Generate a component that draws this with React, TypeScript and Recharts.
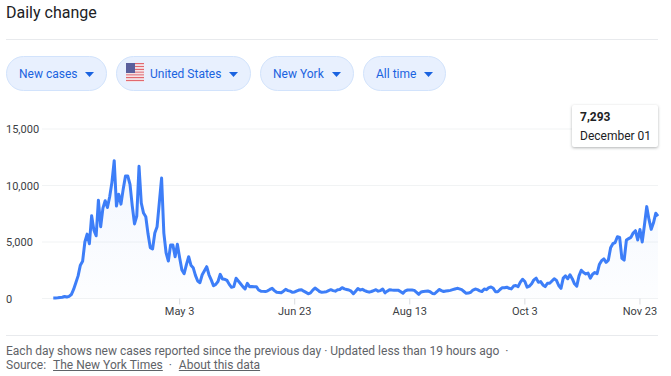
import React from 'react';
import { AreaChart, Area, XAxis, YAxis, CartesianGrid } from 'recharts';

// one value per day, Mar 8 to Dec 1
const newCases = [
  40, 40, 60, 90, 110, 180, 130, 190, 350, 800,
  1400, 2000, 2950, 3300, 5000, 5700, 4850, 7330, 6050, 5550,
  8700, 6350, 8000, 8650, 8050, 9000, 10300, 12200, 8180, 9230,
  8350, 9700, 10850, 10850, 10100, 8200, 6600, 7300, 11700, 8450,
  7560, 7240, 5700, 4500, 4380, 5790, 6350, 8500, 10660, 5790,
  4030, 3320, 4730, 4730, 3700, 4800, 3600, 2520, 2200, 3000,
  3700, 2950, 2730, 2050, 1550, 1400, 2100, 2450, 2815, 2100,
  1650, 1130, 1250, 1500, 2140, 1725, 1700, 1600, 1250, 990,
  1050, 1790, 1550, 1300, 1050, 840, 1345, 1045, 1060, 1040,
  1045, 750, 650, 630, 610, 680, 800, 900, 700, 550,
  540, 510, 650, 815, 700, 650, 550, 580, 680, 750,
  780, 650, 540, 420, 500, 740, 930, 780, 620, 545,
  570, 600, 700, 780, 700, 650, 780, 800, 960, 850,
  800, 750, 650, 420, 650, 880, 750, 810, 700, 620,
  560, 620, 700, 780, 650, 700, 840, 500, 650, 780,
  750, 740, 730, 720, 600, 460, 680, 750, 750, 750,
  720, 550, 370, 580, 620, 640, 660, 600, 450, 420,
  600, 800, 700, 620, 660, 690, 720, 780, 840, 900,
  850, 780, 620, 460, 480, 550, 750, 840, 780, 680,
  620, 840, 780, 960, 1020, 900, 600, 600, 800, 960,
  950, 1000, 900, 850, 1100, 1150, 1050, 1450, 1700, 1500,
  1000, 1100, 1300, 1650, 1800, 1430, 1500, 1200, 1050, 1350,
  1350, 1550, 1750, 1600, 1150, 900, 1800, 2000, 1750, 2100,
  1750, 1300, 1100, 2000, 2500, 2300, 2170, 2250, 1800, 2150,
  2300, 2200, 3000, 3350, 3500, 3200, 3400, 4500, 4850, 4950,
  5470, 5400, 3550, 3400, 5180, 5300, 5410, 5800, 6000, 5180,
  6100, 5000, 6500, 8130, 7000, 6120, 6700, 7540, 7293,
];
const tickDays = [56, 107, 158, 209, 260];
const tickLabels = ['May 3', 'Jun 23', 'Aug 13', 'Oct 3', 'Nov 23'];
const valueTicks = [0, 5000, 10000, 15000];
const filters = ['New cases', 'United States', 'New York', 'All time'];

const data = newCases.map((value, day) => ({ day, value }));

const font = 'Roboto, sans-serif';
const chipLeft = [6, 116, 260, 363];
const chipWidth = [101, 135, 94, 83];

const YTick = ({ y, payload }: any) => (
  <text x={6} y={y} dy={4} fontSize={11} fontFamily={font} fill="#3c4043" textAnchor="start">
    {payload.value.toLocaleString('en-US')}
  </text>
);

const Flag = () => (
  <svg width={18} height={19} style={{ position: 'absolute', left: 9, top: 6 }}>
    {[0, 1, 2, 3, 4, 5, 6].map((i) => (
      <rect key={i} x={0} y={i * 2.8} width={18} height={1.4} fill="#e2686f" />
    ))}
    {[0, 1, 2, 3, 4, 5, 6].map((i) => (
      <rect key={i} x={0} y={i * 2.8 + 1.4} width={18} height={1.4} fill="#f6e3e4" />
    ))}
    <rect x={0} y={0} width={9} height={10} fill="#5a5f9c" />
  </svg>
);

const Chip = ({ label, index }: { label: string; index: number }) => {
  const hasFlag = index === 1;
  return (
    <div
      style={{
        position: 'absolute',
        left: chipLeft[index],
        top: 56,
        width: chipWidth[index],
        height: 35,
        boxSizing: 'border-box',
        border: '1px solid #d2e3fc',
        borderRadius: 18,
        background: '#e8f0fe',
        color: '#1a63e0',
        fontSize: 12,
        lineHeight: '34px',
      }}
    >
      {hasFlag && <Flag />}
      <span style={{ position: 'absolute', left: hasFlag ? 33 : 12, whiteSpace: 'nowrap' }}>{label}</span>
      <svg width={9} height={5} style={{ position: 'absolute', right: 12, top: 15 }}>
        <polygon points="0,0 9,0 4.5,5" fill="#1a63e0" />
      </svg>
    </div>
  );
};

export default function App() {
  return (
    <div style={{ position: 'absolute', left: 0, top: 0, width: 671, height: 376, background: '#fff', fontFamily: font, overflow: 'hidden' }}>
      <div style={{ position: 'absolute', left: 6, top: 3, fontSize: 16, lineHeight: '20px', color: '#202124' }}>Daily change</div>
      <div style={{ position: 'absolute', left: 6, top: 39, width: 652, height: 1, background: '#e8eaed' }} />
      {filters.map((label, i) => (
        <Chip key={label} label={label} index={i} />
      ))}

      <div style={{ position: 'absolute', left: 0, top: 100 }}>
        <AreaChart width={671} height={225} data={data} margin={{ top: 29, right: 13, bottom: 0, left: 0 }}>
          <defs>
            <linearGradient id="areaFill" x1="0" y1="0" x2="0" y2="1">
              <stop offset="0%" stopColor="#4285f4" stopOpacity={0.11} />
              <stop offset="100%" stopColor="#4285f4" stopOpacity={0.02} />
            </linearGradient>
          </defs>
          <CartesianGrid vertical={false} stroke="#f1f3f4" />
          <XAxis
            dataKey="day"
            type="number"
            domain={[-5, 268]}
            ticks={tickDays}
            interval={0}
            height={26.5}
            tickSize={6}
            tickMargin={3}
            axisLine={false}
            tickLine={{ stroke: '#dadce0' }}
            tick={{ fontSize: 11, fontFamily: font, fill: '#3c4043' }}
            tickFormatter={(d: number) => tickLabels[tickDays.indexOf(d)]}
          />
          <YAxis
            width={42}
            domain={[0, 15000]}
            ticks={valueTicks}
            interval={0}
            axisLine={false}
            tickLine={false}
            tick={<YTick />}
          />
          <Area
            dataKey="value"
            type="linear"
            stroke="#3d7ef8"
            strokeWidth={3}
            strokeLinejoin="round"
            fill="url(#areaFill)"
            dot={false}
            isAnimationActive={false}
          />
        </AreaChart>
      </div>

      <div
        style={{
          position: 'absolute',
          left: 572,
          top: 105,
          width: 86,
          height: 42,
          background: '#fff',
          borderRadius: 2,
          boxShadow: '0 1px 3px rgba(60,64,67,0.4)',
          color: '#202124',
          fontSize: 12,
        }}
      >
        <div style={{ position: 'absolute', left: 8, top: 5, fontWeight: 700, lineHeight: '14px' }}>7,293</div>
        <div style={{ position: 'absolute', left: 8, top: 24, lineHeight: '14px', whiteSpace: 'nowrap' }}>December 01</div>
      </div>

      <div style={{ position: 'absolute', left: 6, top: 335, width: 652, height: 1, background: '#e8eaed' }} />
      <div style={{ position: 'absolute', left: 6, top: 344, fontSize: 12, lineHeight: '14px', color: '#5f6368', whiteSpace: 'nowrap' }}>
        Each day shows new cases reported since the previous day · Updated less than 19 hours ago &nbsp;·
      </div>
      <div style={{ position: 'absolute', left: 6, top: 358, fontSize: 12, lineHeight: '14px', color: '#5f6368', whiteSpace: 'nowrap' }}>
        Source: &nbsp;<u style={{ marginLeft: 1 }}>The New York Times</u> &nbsp;·&nbsp; <u style={{ marginLeft: 1 }}>About this data</u>
      </div>
    </div>
  );
}
